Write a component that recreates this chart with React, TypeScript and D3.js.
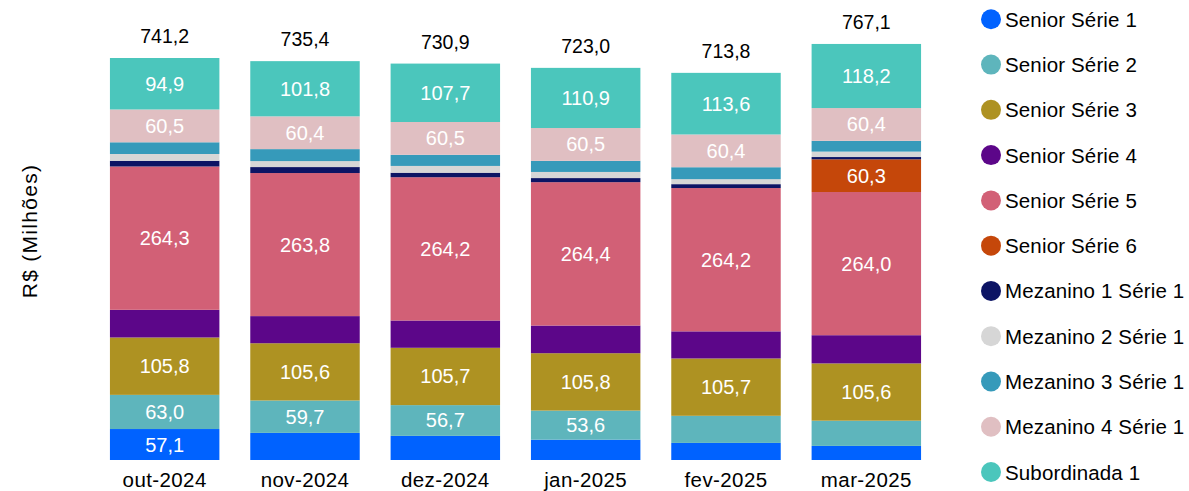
import * as d3 from 'd3';

const months = ['out-2024', 'nov-2024', 'dez-2024', 'jan-2025', 'fev-2025', 'mar-2025'];

const seriesNames = [
  'Senior Série 1',
  'Senior Série 2',
  'Senior Série 3',
  'Senior Série 4',
  'Senior Série 5',
  'Senior Série 6',
  'Mezanino 1 Série 1',
  'Mezanino 2 Série 1',
  'Mezanino 3 Série 1',
  'Mezanino 4 Série 1',
  'Subordinada 1',
];

const seriesColors = [
  '#0062ff',
  '#5eb5bc',
  '#ae9222',
  '#5c0689',
  '#d26076',
  '#c5470a',
  '#0c1464',
  '#d6d6d6',
  '#369aba',
  '#e0bfc2',
  '#4bc6bc',
];

// one array per series, in month order
const senior1 = [57.1, 50.0, 44.5, 37.5, 31.5, 26.0];
const senior2 = [63.0, 59.7, 56.7, 53.6, 50.0, 46.5];
const senior3 = [105.8, 105.6, 105.7, 105.8, 105.7, 105.6];
const senior4 = [51.0, 50.0, 50.3, 51.0, 50.0, 52.0];
const senior5 = [264.3, 263.8, 264.2, 264.4, 264.2, 264.0];
const senior6 = [0, 0, 0, 0, 0, 60.3];
const mez1 = [10.5, 11.0, 8.3, 7.5, 7.2, 4.2];
const mez2 = [12.5, 11.0, 12.5, 11.3, 9.2, 10.0];
const mez3 = [21.6, 22.1, 20.5, 20.5, 22.0, 19.9];
const mez4 = [60.5, 60.4, 60.5, 60.5, 60.4, 60.4];
const subord1 = [94.9, 101.8, 107.7, 110.9, 113.6, 118.2];

const totals = [741.2, 735.4, 730.9, 723.0, 713.8, 767.1];

const seriesValues = [senior1, senior2, senior3, senior4, senior5, senior6, mez1, mez2, mez3, mez4, subord1];

const labelMin = 53;
const fmt = (v: number) => v.toFixed(1).replace('.', ',');
const font = '"Liberation Sans", Arial, sans-serif';

export default function App() {
  const width = 1189;
  const height = 491;

  const rows = months.map((m, i) => {
    const r: Record<string, number | string> = { month: m };
    seriesNames.forEach((s, k) => (r[s] = seriesValues[k][i]));
    return r;
  });

  const stacked = d3
    .stack<Record<string, number | string>>()
    .keys(seriesNames)
    .value((d, key) => d[key] as number)(rows);

  const x = d3.scaleBand<string>().domain(months).range([94.5, 936.5]).paddingInner(0.22).paddingOuter(0.11);
  const y = d3.scaleLinear().domain([0, 741.2]).range([460, 58]);
  const color = d3.scaleOrdinal<string, string>().domain(seriesNames).range(seriesColors);

  const legendY = d3.scalePoint<string>().domain(seriesNames).range([19.3, 472]);

  return (
    <svg width={width} height={height} style={{ position: 'absolute', left: 0, top: 0, fontFamily: font }}>
      <rect width={width} height={height} fill="#fff" />
      {stacked.map((layer, k) => (
        <g key={layer.key} fill={color(layer.key)}>
          {layer.map((d, i) => {
            const h = y(d[0]) - y(d[1]);
            if (h <= 0) return null;
            return <rect key={i} x={x(months[i])} y={y(d[1])} width={x.bandwidth()} height={h} />;
          })}
          {layer.map((d, i) => {
            const v = seriesValues[k][i];
            if (v < labelMin) return null;
            return (
              <text
                key={'t' + i}
                x={(x(months[i]) ?? 0) + x.bandwidth() / 2}
                y={(y(d[0]) + y(d[1])) / 2}
                textAnchor="middle"
                dominantBaseline="central"
                fill="#fff"
                fontSize={20}
              >
                {fmt(v)}
              </text>
            );
          })}
        </g>
      ))}
      {totals.map((t, i) => (
        <text
          key={'tot' + i}
          x={(x(months[i]) ?? 0) + x.bandwidth() / 2}
          y={y(t) - 15}
          textAnchor="middle"
          fontSize={19.5}
          fill="#000"
        >
          {fmt(t)}
        </text>
      ))}
      {months.map((m) => (
        <text
          key={m}
          x={(x(m) ?? 0) + x.bandwidth() / 2}
          y={487}
          textAnchor="middle"
          fontSize={20.5}
          letterSpacing={0.4}
          fill="#000"
        >
          {m}
        </text>
      ))}
      <text
        transform="translate(29,231) rotate(-90)"
        textAnchor="middle"
        dominantBaseline="central"
        fontSize={21}
        letterSpacing={1.3}
        fill="#000"
      >
        R$ (Milhões)
      </text>
      {seriesNames.map((s) => (
        <g key={s} transform={`translate(0,${legendY(s)})`}>
          <circle cx={991} cy={0} r={10} fill={color(s)} />
          <text x={1005} y={0} dominantBaseline="central" fontSize={20.5} letterSpacing={0.15} fill="#000">
            {s}
          </text>
        </g>
      ))}
    </svg>
  );
}
